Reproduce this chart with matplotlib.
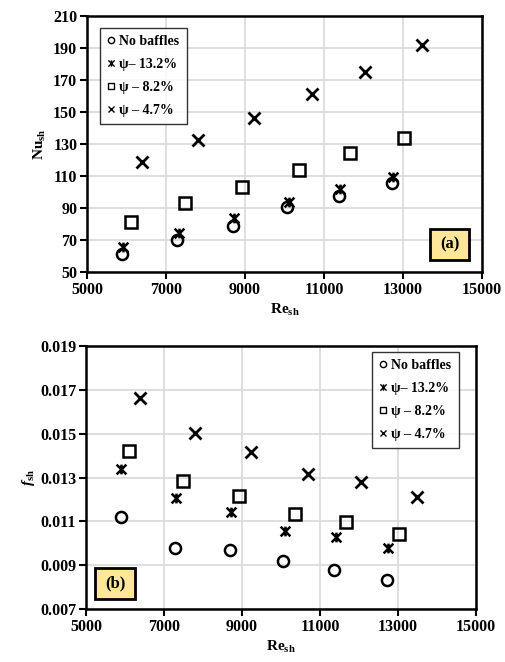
import matplotlib
matplotlib.use("Agg")
import matplotlib.pyplot as plt
from matplotlib.path import Path

plt.rcParams['font.family'] = ['Liberation Serif', 'DejaVu Serif']
plt.rcParams['font.weight'] = 'bold'
plt.rcParams['mathtext.fontset'] = 'custom'
plt.rcParams['mathtext.rm'] = 'Liberation Serif:bold'
plt.rcParams['mathtext.it'] = 'Liberation Serif:bold:italic'
plt.rcParams['mathtext.bf'] = 'Liberation Serif:bold'

labels = ["No baffles", "ψ– 13.2%", "ψ – 8.2%", "ψ – 4.7%"]

# Reynolds numbers per configuration
re_nb = [5890, 7280, 8690, 10060, 11370, 12710]
re_132 = [5910, 7320, 8730, 10110, 11400, 12740]
re_82 = [6110, 7490, 8920, 10360, 11670, 13030]
re_47 = [6380, 7800, 9230, 10700, 12050, 13480]

# Nusselt numbers
nu_nb = [61, 70, 79, 90.5, 97.5, 105.5]
nu_132 = [65.5, 74.5, 84, 94, 102, 109.5]
nu_82 = [81.5, 93, 103, 114, 124.5, 133.5]
nu_47 = [118.5, 132.5, 146, 161.5, 175, 192]

# friction factors
f_nb = [0.01118, 0.00979, 0.00969, 0.00917, 0.00878, 0.00832]
f_132 = [0.01337, 0.01207, 0.01141, 0.01057, 0.01027, 0.00977]
f_82 = [0.01421, 0.01285, 0.01215, 0.01132, 0.01098, 0.01042]
f_47 = [0.01665, 0.01501, 0.01417, 0.01315, 0.01278, 0.01212]

xticks = [5000, 7000, 9000, 11000, 13000, 15000]
yticks_a = [50, 70, 90, 110, 130, 150, 170, 190, 210]
yticks_b = [0.007, 0.009, 0.011, 0.013, 0.015, 0.017, 0.019]

star = Path([(-1, -1), (1, 1), (-1, 1), (1, -1), (0, -1), (0, 1)],
            [Path.MOVETO, Path.LINETO, Path.MOVETO, Path.LINETO, Path.MOVETO, Path.LINETO])

fig = plt.figure(figsize=(5.05, 6.62), dpi=100)
W, H = 505, 662
ax1 = fig.add_axes([87 / W, 1 - 272 / H, 395 / W, 256 / H])
ax2 = fig.add_axes([86 / W, 1 - 609 / H, 390 / W, 263 / H])

styles = [
    dict(marker='o', ms=8, mfc='none', mec='black', mew=1.8),
    dict(marker=star, ms=7, mfc='none', mec='black', mew=1.8),
    dict(marker='s', ms=8, mfc='none', mec='black', mew=1.8),
    dict(marker='x', ms=8, mfc='none', mec='black', mew=2.0),
]

def style_axes(ax, yticks, ylim, yfmt):
    ax.set_xlim(5000, 15000)
    ax.set_ylim(*ylim)
    ax.set_xticks(xticks)
    ax.set_yticks(yticks)
    ax.set_yticklabels([yfmt(v) for v in yticks])
    ax.grid(True, color='#d9d9d9', lw=1.2)
    ax.set_axisbelow(True)
    for s in ax.spines.values():
        s.set_linewidth(1.8)
        s.set_color('black')
    ax.tick_params(axis='both', direction='out', length=5, width=1.5,
                   labelsize=11.5, pad=2)
    for lab in ax.get_xticklabels() + ax.get_yticklabels():
        lab.set_fontweight('bold')
    ax.set_xlabel(r'Re$_{\mathregular{sh}}$', fontsize=11, fontweight='bold', labelpad=3)

def draw(ax, xs, ys):
    for x, y, st, lab in zip(xs, ys, styles, labels):
        ax.plot(x, y, ls='none', label=lab, **st)

draw(ax1, [re_nb, re_132, re_82, re_47], [nu_nb, nu_132, nu_82, nu_47])
style_axes(ax1, yticks_a, (50, 210), lambda v: f"{v:d}")
ax1.set_ylabel(r'Nu$_{\mathregular{sh}}$', fontsize=11, fontweight='bold', labelpad=4)

draw(ax2, [re_nb, re_132, re_82, re_47], [f_nb, f_132, f_82, f_47])
style_axes(ax2, yticks_b, (0.007, 0.019), lambda v: f"{v:.3f}")
ax2.set_ylabel(r'$\it{f}$$_{\mathregular{sh}}$', fontsize=11, fontweight='bold', labelpad=2)

def legend(ax, anchor):
    handles = []
    for st, lab in zip(styles, labels):
        st2 = dict(st)
        st2['ms'] = 4.5
        st2['mew'] = 1.0
        h, = ax.plot([], [], ls='none', label=lab, **st2)
        handles.append(h)
    lg = ax.legend(handles=handles, loc='upper left', bbox_to_anchor=anchor,
                   prop={'family': 'Liberation Serif', 'weight': 'bold', 'size': 10},
                   frameon=True, fancybox=False, edgecolor='black',
                   handlelength=0.6, handletextpad=0.3, borderpad=0.5,
                   labelspacing=0.72, borderaxespad=0)
    lg.get_frame().set_linewidth(1.0)
    return lg

legend(ax1, ((100 - 87) / 395, (272 - 28) / 256))
legend(ax2, ((372 - 86) / 390, (609 - 352) / 263))

def tagbox(ax, text, x0, y0, x1, y1):
    ax.add_patch(plt.Rectangle((x0, y0), x1 - x0, y1 - y0, transform=ax.transAxes,
                               facecolor='#FFE699', edgecolor='black', lw=2.0, zorder=5))
    ax.text((x0 + x1) / 2, (y0 + y1) / 2, text, transform=ax.transAxes,
            ha='center', va='center', fontsize=12, fontweight='bold', zorder=6)

tagbox(ax1, '(a)', 0.868, 0.047, 0.968, 0.167)
tagbox(ax2, '(b)', 0.023, 0.037, 0.126, 0.155)

fig.savefig('out.png', dpi=100)
